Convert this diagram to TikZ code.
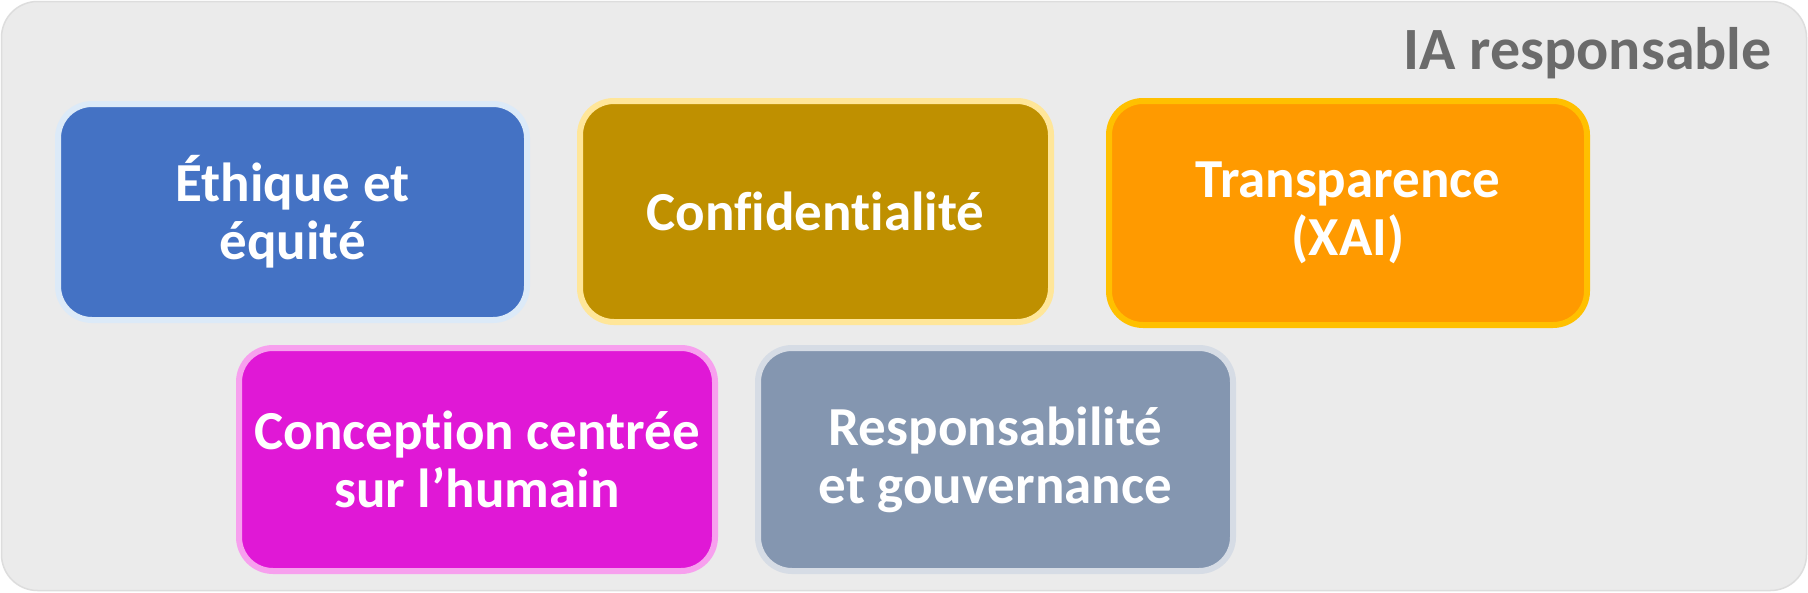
\documentclass[tikz,border=0pt]{standalone}
\usepackage{fontspec}
\setmainfont{Carlito}[Ligatures=CommonOff]
\definecolor{bgc}{HTML}{EBEBEB}
\definecolor{bgline}{HTML}{DDDDDD}
\definecolor{titlec}{HTML}{6B6B6B}
\definecolor{bluef}{HTML}{4472C4}\definecolor{blueb}{HTML}{DCEAF8}
\definecolor{goldf}{HTML}{BF9000}\definecolor{goldb}{HTML}{FFE699}
\definecolor{orgf}{HTML}{FF9A00}\definecolor{orgb}{HTML}{FFC000}
\definecolor{magf}{HTML}{E018D6}\definecolor{magb}{HTML}{F7A0EE}
\definecolor{grayf}{HTML}{8496B0}\definecolor{grayb}{HTML}{D6DCE5}
\tikzset{
  pillar/.style={rectangle, rounded corners=34pt, line width=6pt,
    align=center, text=white, inner sep=0pt,
    font=\bfseries\fontsize{55}{58}\selectfont},
}
\begin{document}
\begin{tikzpicture}[x=1pt,y=-1pt]
\useasboundingbox (0,0) rectangle (1808,592);
\fill[white] (0,0) rectangle (1808,592);
\draw[fill=bgc, draw=bgline, line width=1.5pt, rounded corners=36pt] (1.5,1.5) rectangle (1806.5,590.5);
\node[anchor=base east, text=titlec, font=\bfseries\fontsize{60}{60}\selectfont, inner sep=0pt] (title) at (1772,69) {IA responsable};
\node[pillar, fill=bluef, draw=blueb, minimum width=469pt, minimum height=216pt] (eth) at (292.5,212) {Éthique et\\équité};
\node[pillar, fill=goldf, draw=goldb, minimum width=471pt, minimum height=221pt] (conf) at (815.5,211.5) {Confidentialité};
\node[pillar, fill=orgf, draw=orgb, minimum width=478pt, minimum height=224pt] (trans) at (1348,213) {Transparence\\(XAI)};
\node[pillar, fill=magf, draw=magb, minimum width=476pt, minimum height=223pt] (conc) at (477,459.5) {Conception centrée\\sur l’humain};
\node[pillar, fill=grayf, draw=grayb, minimum width=475pt, minimum height=223pt] (resp) at (995.5,459.5) {Responsabilité\\et gouvernance};
\end{tikzpicture}
\end{document}
